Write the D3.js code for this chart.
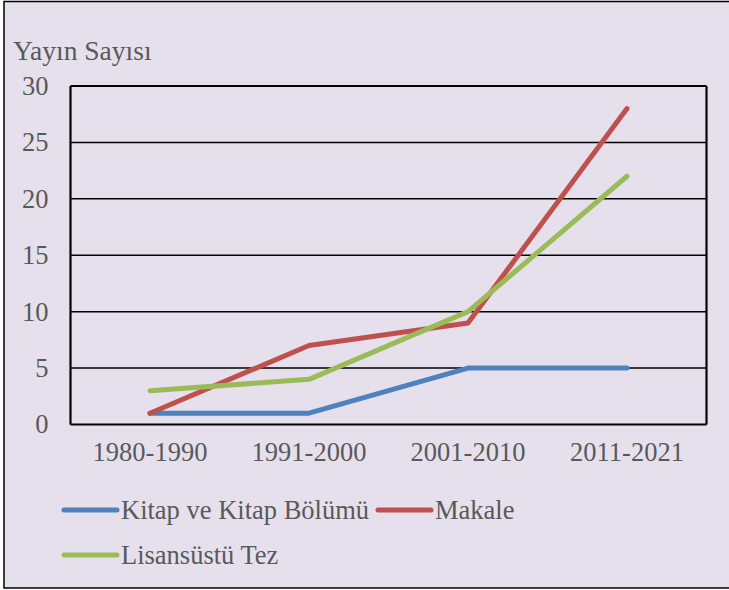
<!DOCTYPE html>
<html><head><meta charset="utf-8">
<script src="https://cdn.jsdelivr.net/npm/d3@7"></script>
<style>body{margin:0;background:#fff}svg{display:block}</style>
</head><body>
<svg id="c" width="729" height="590"></svg>
<script>
const categories = ["1980-1990", "1991-2000", "2001-2010", "2011-2021"];
const kitap = [1, 1, 5, 5];
const makale = [1, 7, 9, 28];
const tez = [3, 4, 10, 22];
const yTicks = [0, 5, 10, 15, 20, 25, 30];
const seriesNames = ["Kitap ve Kitap Bölümü", "Makale", "Lisansüstü Tez"];
const seriesColors = ["#4F81BD", "#C0504D", "#9BBB59"];
const yTitle = "Yayın Sayısı";

const svg = d3.select("#c");
const font = "'Liberation Serif','Times New Roman',serif";
const txt = "#595959";
const fs = 26.5;

svg.append("rect").attr("x", 4).attr("y", 1.5).attr("width", 740).attr("height", 586.5)
  .attr("fill", "#E6E0EC").attr("stroke", "#000").attr("stroke-width", 1.5);

const L = 70.5, R = 706.5, T = 86, B = 424.5;
const x = d3.scaleBand().domain(categories).range([L, R]);
const y = d3.scaleLinear().domain([0, 30]).range([B, T]);

const g = svg.append("g");
g.selectAll("line.grid").data(yTicks).join("line")
  .attr("x1", L).attr("x2", R).attr("y1", d => y(d)).attr("y2", d => y(d))
  .attr("stroke", "#000").attr("stroke-width", d => (d === 0 || d === 30) ? 2.2 : 1.5);
g.append("line").attr("x1", L).attr("x2", L).attr("y1", T).attr("y2", B).attr("stroke", "#000").attr("stroke-width", 2.2);
g.append("line").attr("x1", R).attr("x2", R).attr("y1", T).attr("y2", B).attr("stroke", "#000").attr("stroke-width", 2.2);

const yAxis = d3.axisLeft(y).tickValues(yTicks).tickSize(0).tickPadding(22);
const ya = svg.append("g").attr("transform", `translate(${L},0)`).call(yAxis);
ya.select(".domain").remove();
ya.selectAll("text").attr("font-family", font).attr("font-size", fs).attr("fill", txt);

const xAxis = d3.axisBottom(x).tickSize(0).tickPadding(18);
const xa = svg.append("g").attr("transform", `translate(0,${B})`).call(xAxis);
xa.select(".domain").remove();
xa.selectAll("text").attr("font-family", font).attr("font-size", fs).attr("fill", txt);

svg.append("text").attr("x", 13).attr("y", 60).text(yTitle)
  .attr("font-family", font).attr("font-size", 27.5).attr("fill", txt);

const data = [kitap, makale, tez];
const line = d3.line().x((d, i) => x(categories[i]) + x.bandwidth() / 2).y(d => y(d));
data.forEach((s, k) => {
  svg.append("path").datum(s).attr("d", line).attr("fill", "none")
    .attr("stroke", seriesColors[k]).attr("stroke-width", 5).attr("stroke-linecap", "round").attr("stroke-linejoin", "round");
});

const leg = [
  {x: 64, y: 510},
  {x: 378, y: 510},
  {x: 64, y: 555}
];
seriesNames.forEach((n, k) => {
  const p = leg[k];
  svg.append("line").attr("x1", p.x).attr("x2", p.x + 53).attr("y1", p.y).attr("y2", p.y)
    .attr("stroke", seriesColors[k]).attr("stroke-width", 5).attr("stroke-linecap", "round");
  svg.append("text").attr("x", p.x + 57).attr("y", p.y + 8.5).text(n)
    .attr("font-family", font).attr("font-size", fs).attr("fill", txt);
});
</script>
</body></html>
